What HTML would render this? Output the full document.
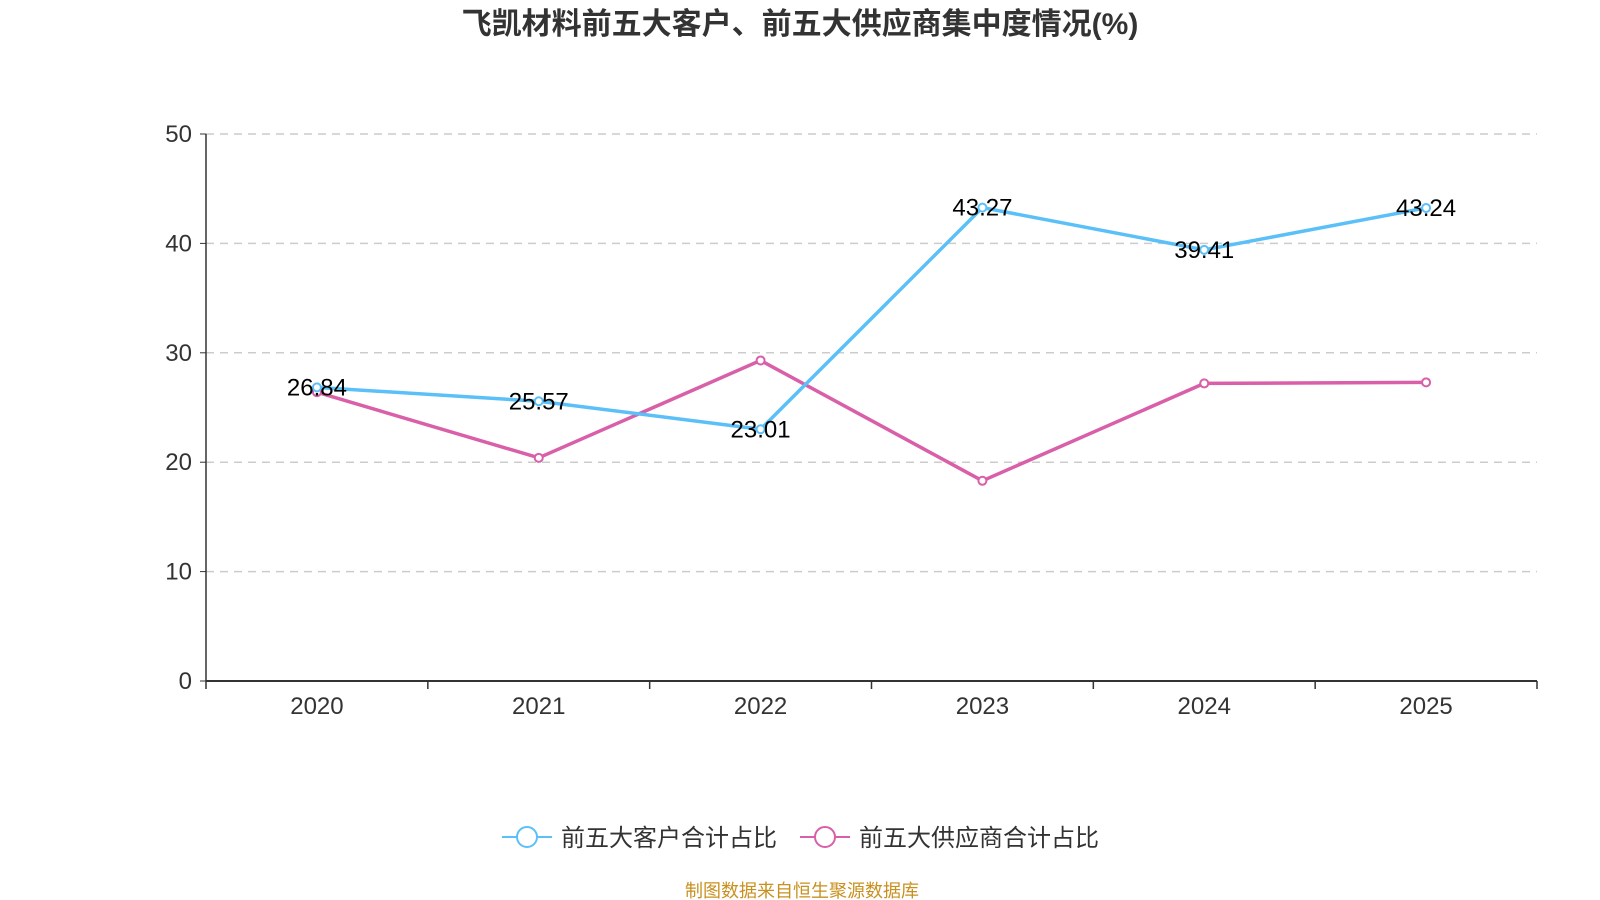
<!DOCTYPE html>
<html><head><meta charset="utf-8">
<style>
body{margin:0;background:#fff;}
svg{display:block;font-family:"Liberation Sans","Noto Sans CJK SC",sans-serif;}
</style></head><body>
<svg width="1600" height="900">
<text x="800" y="34" text-anchor="middle" font-size="30" font-weight="bold" fill="#333">飞凯材料前五大客户、前五大供应商集中度情况(%)</text>
<g id="grid"></g><g id="axes"></g><g id="series"></g>
<g>
<g>
<line x1="502" y1="837" x2="552" y2="837" stroke="#5bc0f8" stroke-width="2"/>
<circle cx="527" cy="837" r="10" fill="#fff" stroke="#5bc0f8" stroke-width="2"/>
<text x="561" y="846" font-size="24" fill="#333">前五大客户合计占比</text></g>
<g>
<line x1="800" y1="837" x2="850" y2="837" stroke="#d85fa8" stroke-width="2"/>
<circle cx="825" cy="837" r="10" fill="#fff" stroke="#d85fa8" stroke-width="2"/>
<text x="859" y="846" font-size="24" fill="#333">前五大供应商合计占比</text></g>
</g>
<text x="802" y="897" text-anchor="middle" font-size="18" fill="#c8901e">制图数据来自恒生聚源数据库</text>
</svg>
<script>
const categories=["2020","2021","2022","2023","2024","2025"];
const customers=[26.84,25.57,23.01,43.27,39.41,43.24];
const suppliers=[26.4,20.4,29.3,18.3,27.2,27.3];
const yTicks=[0,10,20,30,40,50];
const NS="http://www.w3.org/2000/svg";
const L=206,R=1537,T=134,B=681,YMAX=50;
const band=(R-L)/categories.length;
const x=i=>L+band*(i+0.5);
const y=v=>B-(v/YMAX)*(B-T);
function mk(tag,attrs,parent){const e=document.createElementNS(NS,tag);for(const k in attrs)e.setAttribute(k,attrs[k]);parent.appendChild(e);return e;}
const grid=document.getElementById('grid'),axes=document.getElementById('axes'),ser=document.getElementById('series');
yTicks.forEach(t=>{
 if(t>0){const g=mk('line',{x1:L,x2:R,y1:y(t),y2:y(t),stroke:'#ccc','stroke-width':1.5,'stroke-dasharray':'8,6'},grid);
 
 }
 mk('line',{x1:L-6,x2:L,y1:y(t),y2:y(t),stroke:'#333'},axes);
 const tx=mk('text',{x:L-14,y:y(t)+8,'text-anchor':'end','font-size':24,fill:'#333'},axes);tx.textContent=t;
 
 
});
const ya=mk('line',{x1:L,x2:L,y1:T,y2:B,stroke:'#333','stroke-width':1.5},axes);


const xa=mk('line',{x1:L,x2:R,y1:B,y2:B,stroke:'#333','stroke-width':2},axes);


for(let i=0;i<=categories.length;i++)mk('line',{x1:L+band*i,x2:L+band*i,y1:B,y2:B+8,stroke:'#333','stroke-width':1.5},axes);
categories.forEach((c,i)=>{const t=mk('text',{x:x(i),y:B+33,'text-anchor':'middle','font-size':24,fill:'#333'},axes);t.textContent=c;
 
 });
function draw(data,color,name,labels){
 const p=mk('polyline',{points:data.map((v,i)=>x(i)+','+y(v)).join(' '),fill:'none',stroke:color,'stroke-width':3.5},ser);
 
 
 data.forEach((v,i)=>{const c=mk('circle',{cx:x(i),cy:y(v),r:4,fill:'#fff',stroke:color,'stroke-width':2},ser);
  
  });
 if(labels)data.forEach((v,i)=>{const t=mk('text',{x:x(i),y:y(v)+8,'text-anchor':'middle','font-size':24,fill:'#000'},ser);t.textContent=v.toFixed(2);
  
  });
}
draw(suppliers,'#d85fa8','suppliers',false);
draw(customers,'#5bc0f8','customers',true);
</script>
</body></html>
